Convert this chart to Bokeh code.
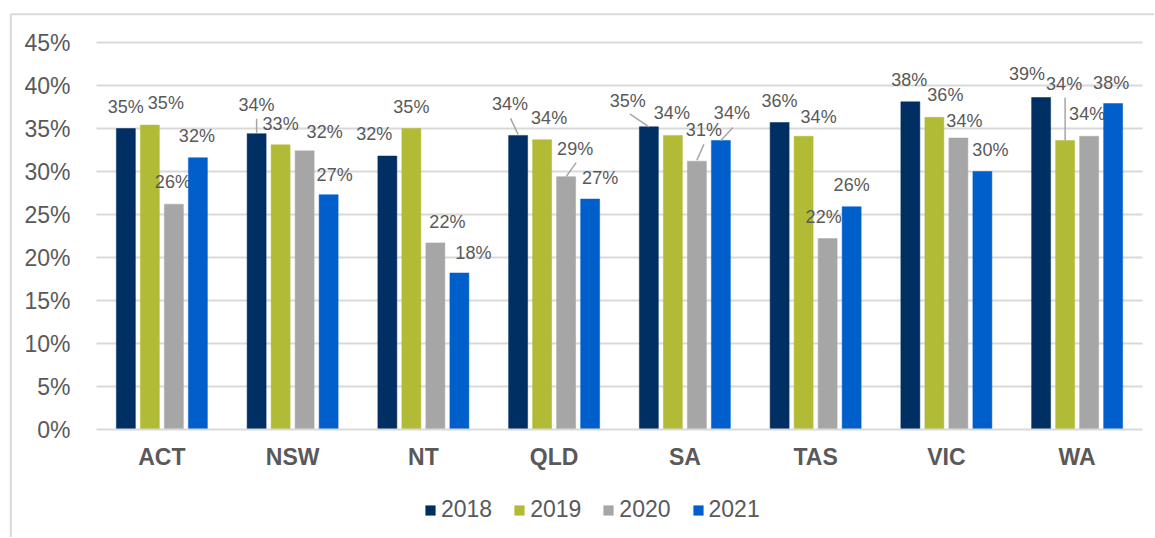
from bokeh.plotting import figure
from bokeh.models import Range1d, FixedTicker, Legend, LegendItem, ColumnDataSource
from bokeh.core.properties import value
from bokeh.embed import file_html
from bokeh.resources import INLINE

# ---------------- data ----------------
states = ["ACT", "NSW", "NT", "QLD", "SA", "TAS", "VIC", "WA"]
years = ["2018", "2019", "2020", "2021"]
v2018 = [35.0, 34.4, 31.8, 34.2, 35.2, 35.7, 38.1, 38.6]
v2019 = [35.4, 33.1, 35.0, 33.7, 34.2, 34.1, 36.3, 33.6]
v2020 = [26.2, 32.4, 21.7, 29.4, 31.2, 22.2, 33.9, 34.1]
v2021 = [31.6, 27.3, 18.2, 26.8, 33.6, 25.9, 30.0, 37.9]
y_ticks = [0, 5, 10, 15, 20, 25, 30, 35, 40, 45]

series = [v2018, v2019, v2020, v2021]
colors = ["#002F63", "#B2BB35", "#A6A6A6", "#005FCB"]

# ---------------- layout / style ----------------
FONT = "Liberation Sans"
TXT = "#595959"
GRID = "#D9D9D9"
W, H = 1154, 537
FL, FT = 8, 11                    # frame left/top on canvas (px)
PX0, PX8 = 96.0, 1142.0           # canvas px of x=0 and x=8
PY0, PY45 = 429.0, 42.0           # canvas px of y=0 and y=45
sx = (PX8 - PX0) / len(states)    # px per x unit
sy = (PY0 - PY45) / 45.0          # px per y unit
x_start = (FL - PX0) / sx
x_end = (W - PX0) / sx
y_end = (PY0 - FT) / sy
y_start = (PY0 - H) / sy
px_x = 1.0 / sx
px_y = 1.0 / sy

offsets = [-0.2754, -0.0918, 0.0918, 0.2754]
bar_w = 0.1453

# label offsets (px) relative to bar centre / bar top, per series per state
lab_dx = [
    [0, 0, -13, -8, -21, 0, -1, -14],
    [16, 0, 0, 7, -1, 15, 11, -1],
    [-1, 20, 12, 9, 7, -4, 6, -2],
    [-1, 6, 14, 10, 11, 0, 8, -2],
]
lab_dy = [
    [-22, -29, -22, -31, -26, -21, -22, -24],
    [-22, -21, -22, -22, -22, -19, -22, -57],
    [-22, -19, -21, -28, -31, -22, -17, -22],
    [-22, -20, -20, -21, -28, -22, -22, -21],
]
# leader lines: (series index, state index, x0px, y0px, x1px, y1px)
leaders = [
    (0, 1, 0, -15, 0, -1),
    (0, 3, -7.6, -17, 0, -1),
    (2, 3, 10, -14, 0, 0),
    (0, 4, -19, -13, 0, 0),
    (2, 4, 7, -17, 0, -1),
    (3, 4, 12, -13, 0, 0),
    (1, 7, 0, -43, 0, 0),
]

p = figure(width=W, height=H, output_backend="svg", toolbar_location=None,
           x_range=Range1d(x_start, x_end), y_range=Range1d(y_start, y_end),
           min_border_left=FL, min_border_right=0, min_border_top=FT,
           min_border_bottom=0)
p.outline_line_color = None
p.background_fill_color = "white"
p.border_fill_color = "white"
p.xgrid.visible = False
p.ygrid.visible = False

# chart-area border (top and left edges, the rest lies outside the window)
bx = (10.3 - PX0) / sx
by = (PY0 - 13.7) / sy
p.segment(x0=[bx, bx], y0=[by, by], x1=[bx, x_end], y1=[y_start, by],
          line_color=GRID, line_width=2)

# horizontal gridlines
gt = [t for t in y_ticks if t > 0]
p.segment(x0=[0] * len(gt), y0=gt, x1=[len(states)] * len(gt), y1=gt,
          line_color=GRID, line_width=2)

items = []
for k, (vals, col, yr) in enumerate(zip(series, colors, years)):
    xs = [i + 0.5 + offsets[k] for i in range(len(states))]
    src = ColumnDataSource(dict(x=xs, top=vals,
                                lab=[f"{int(v + 0.5)}%" for v in vals],
                                dx=lab_dx[k], dy=lab_dy[k]))
    r = p.vbar(x="x", top="top", width=bar_w, source=src, fill_color=col,
               line_color=col, line_width=0.5)
    items.append(LegendItem(label=yr, renderers=[r]))
    p.text(x="x", y="top", text="lab", x_offset="dx", y_offset="dy", source=src,
           text_align="center", text_baseline="middle",
           text_font=value(FONT), text_font_size="18px", text_color=TXT)

lx0, ly0, lx1, ly1 = [], [], [], []
for (k, i, x0, y0, x1, y1) in leaders:
    bxc = i + 0.5 + offsets[k]
    top = series[k][i]
    lx0.append(bxc + x0 * px_x)
    ly0.append(top - y0 * px_y)
    lx1.append(bxc + x1 * px_x)
    ly1.append(top - y1 * px_y)
p.segment(x0=lx0, y0=ly0, x1=lx1, y1=ly1, line_color="#A6A6A6", line_width=1.5)

# axes (drawn at fixed data locations inside the frame)
p.xaxis.fixed_location = 0
p.xaxis.bounds = (0, len(states))
p.xaxis.ticker = FixedTicker(ticks=[i + 0.5 for i in range(len(states))])
p.xaxis.major_label_overrides = {i + 0.5: s for i, s in enumerate(states)}
p.xaxis.major_label_text_font = FONT
p.xaxis.major_label_text_font_style = "bold"
p.xaxis.major_label_text_font_size = "23px"
p.xaxis.major_label_text_color = TXT
p.xaxis.major_label_standoff = 8
p.xaxis.major_tick_line_color = None
p.xaxis.minor_tick_line_color = None
p.xaxis.axis_line_color = GRID
p.xaxis.axis_line_width = 2

p.yaxis.fixed_location = 0
p.yaxis.bounds = (0, 45)
p.yaxis.ticker = FixedTicker(ticks=y_ticks)
p.yaxis.major_label_overrides = {t: f"{t}%" for t in y_ticks}
p.yaxis.major_label_text_font = FONT
p.yaxis.major_label_text_font_size = "23px"
p.yaxis.major_label_text_color = TXT
p.yaxis.major_label_standoff = 20
p.yaxis.major_tick_line_color = None
p.yaxis.minor_tick_line_color = None
p.yaxis.axis_line_color = None

legend = Legend(items=items, orientation="horizontal", location=(416, 14),
                glyph_width=12, glyph_height=12, label_standoff=5, spacing=21,
                padding=0, margin=0, border_line_color=None,
                background_fill_alpha=0,
                label_text_font=FONT, label_text_font_size="23px",
                label_text_color=TXT)
p.add_layout(legend, "center")

open("out.html", "w").write(file_html(p, INLINE))
